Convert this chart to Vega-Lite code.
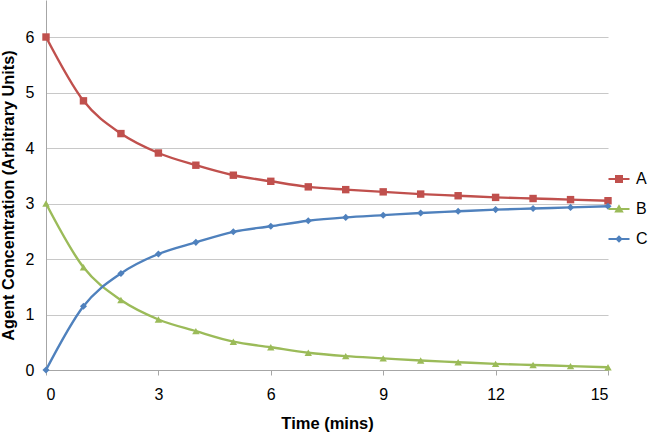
{
  "$schema": "https://vega.github.io/schema/vega-lite/v6.json",
  "width": 562,
  "height": 370,
  "autosize": {"type": "none"},
  "padding": {"left": 46, "top": 0, "right": 58, "bottom": 63},
  "background": "white",
  "config": {
    "view": {"stroke": null},
    "font": "Liberation Sans"
  },
  "data": {
    "values": [
      {"t": 0, "s": "A", "v": 6.0}, {"t": 1, "s": "A", "v": 4.85}, {"t": 2, "s": "A", "v": 4.26}, {"t": 3, "s": "A", "v": 3.91},
      {"t": 4, "s": "A", "v": 3.69}, {"t": 5, "s": "A", "v": 3.51}, {"t": 6, "s": "A", "v": 3.40}, {"t": 7, "s": "A", "v": 3.30},
      {"t": 8, "s": "A", "v": 3.25}, {"t": 9, "s": "A", "v": 3.21}, {"t": 10, "s": "A", "v": 3.17}, {"t": 11, "s": "A", "v": 3.14},
      {"t": 12, "s": "A", "v": 3.11}, {"t": 13, "s": "A", "v": 3.09}, {"t": 14, "s": "A", "v": 3.07}, {"t": 15, "s": "A", "v": 3.05},
      {"t": 0, "s": "B", "v": 3.0}, {"t": 1, "s": "B", "v": 1.85}, {"t": 2, "s": "B", "v": 1.26}, {"t": 3, "s": "B", "v": 0.91},
      {"t": 4, "s": "B", "v": 0.70}, {"t": 5, "s": "B", "v": 0.51}, {"t": 6, "s": "B", "v": 0.41}, {"t": 7, "s": "B", "v": 0.31},
      {"t": 8, "s": "B", "v": 0.25}, {"t": 9, "s": "B", "v": 0.21}, {"t": 10, "s": "B", "v": 0.17}, {"t": 11, "s": "B", "v": 0.14},
      {"t": 12, "s": "B", "v": 0.11}, {"t": 13, "s": "B", "v": 0.09}, {"t": 14, "s": "B", "v": 0.07}, {"t": 15, "s": "B", "v": 0.05},
      {"t": 0, "s": "C", "v": 0.0}, {"t": 1, "s": "C", "v": 1.15}, {"t": 2, "s": "C", "v": 1.74}, {"t": 3, "s": "C", "v": 2.09},
      {"t": 4, "s": "C", "v": 2.30}, {"t": 5, "s": "C", "v": 2.49}, {"t": 6, "s": "C", "v": 2.59}, {"t": 7, "s": "C", "v": 2.69},
      {"t": 8, "s": "C", "v": 2.75}, {"t": 9, "s": "C", "v": 2.79}, {"t": 10, "s": "C", "v": 2.83}, {"t": 11, "s": "C", "v": 2.86},
      {"t": 12, "s": "C", "v": 2.89}, {"t": 13, "s": "C", "v": 2.91}, {"t": 14, "s": "C", "v": 2.93}, {"t": 15, "s": "C", "v": 2.95}
    ]
  },
  "encoding": {
    "x": {
      "field": "t", "type": "quantitative",
      "scale": {"domain": [0, 15], "nice": false},
      "axis": {
        "values": [0, 3, 6, 9, 12, 15],
        "grid": false,
        "title": "Time (mins)",
        "titleFont": "Liberation Sans", "titleFontSize": 16.5, "titleFontWeight": "bold", "titleColor": "#000000",
        "titlePadding": 13,
        "labelFontSize": 16, "labelColor": "#000000", "labelPadding": 11,
        "domainColor": "#A6A6A6", "tickColor": "#A6A6A6", "tickSize": 5
      }
    },
    "y": {
      "field": "v", "type": "quantitative",
      "scale": {"domain": [0, 6.667], "nice": false},
      "axis": {
        "values": [0, 1, 2, 3, 4, 5, 6],
        "grid": true, "gridColor": "#C8C8C8", "gridWidth": 1.2,
        "ticks": false,
        "title": "Agent Concentration (Arbitrary Units)",
        "titleFont": "Liberation Sans", "titleFontSize": 16.3, "titleFontWeight": "bold", "titleColor": "#000000",
        "titlePadding": 9, "titleY": 195,
        "labelFontSize": 16, "labelColor": "#000000", "labelPadding": 12,
        "domainColor": "#A6A6A6"
      }
    },
    "color": {
      "field": "s", "type": "nominal",
      "scale": {"domain": ["A", "B", "C"], "range": ["#C0504D", "#9BBB59", "#4F81BD"]},
      "legend": {
        "title": null, "orient": "none", "legendX": 565, "legendY": 171,
        "labelFontSize": 16, "labelColor": "#000000", "rowPadding": 14, "symbolSize": 100, "labelOffset": 9,
        "symbolType": "circle",
        "encode": {
          "symbols": {
            "update": {
              "shape": {"signal": "datum.value == 'A' ? 'M-2.1,-0.2H2.1V0.2H-2.1Z M-0.8,-0.8H0.8V0.8H-0.8Z' : datum.value == 'B' ? 'M-2.1,-0.2H2.1V0.2H-2.1Z M0,-0.95L0.95,0.7H-0.95Z' : 'M-2.1,-0.2H2.1V0.2H-2.1Z M0,-0.75L0.75,0L0,0.75L-0.75,0Z'"},
              "fill": {"signal": "scale('color', datum.value)"},
              "stroke": {"value": "transparent"},
              "strokeWidth": {"value": 0},
              "opacity": {"value": 1}
            }
          }
        }
      }
    }
  },
  "layer": [
    {
      "mark": {"type": "line", "interpolate": "monotone", "strokeWidth": 2.4}
    },
    {
      "transform": [{"filter": "datum.s == 'A'"}],
      "mark": {"type": "point", "filled": true, "opacity": 1, "shape": "square", "size": 55}
    },
    {
      "transform": [{"filter": "datum.s == 'B'"}],
      "mark": {"type": "point", "filled": true, "opacity": 1, "shape": "triangle-up", "size": 55}
    },
    {
      "transform": [{"filter": "datum.s == 'C'"}],
      "mark": {"type": "point", "filled": true, "opacity": 1, "shape": "diamond", "size": 50}
    }
  ]
}
